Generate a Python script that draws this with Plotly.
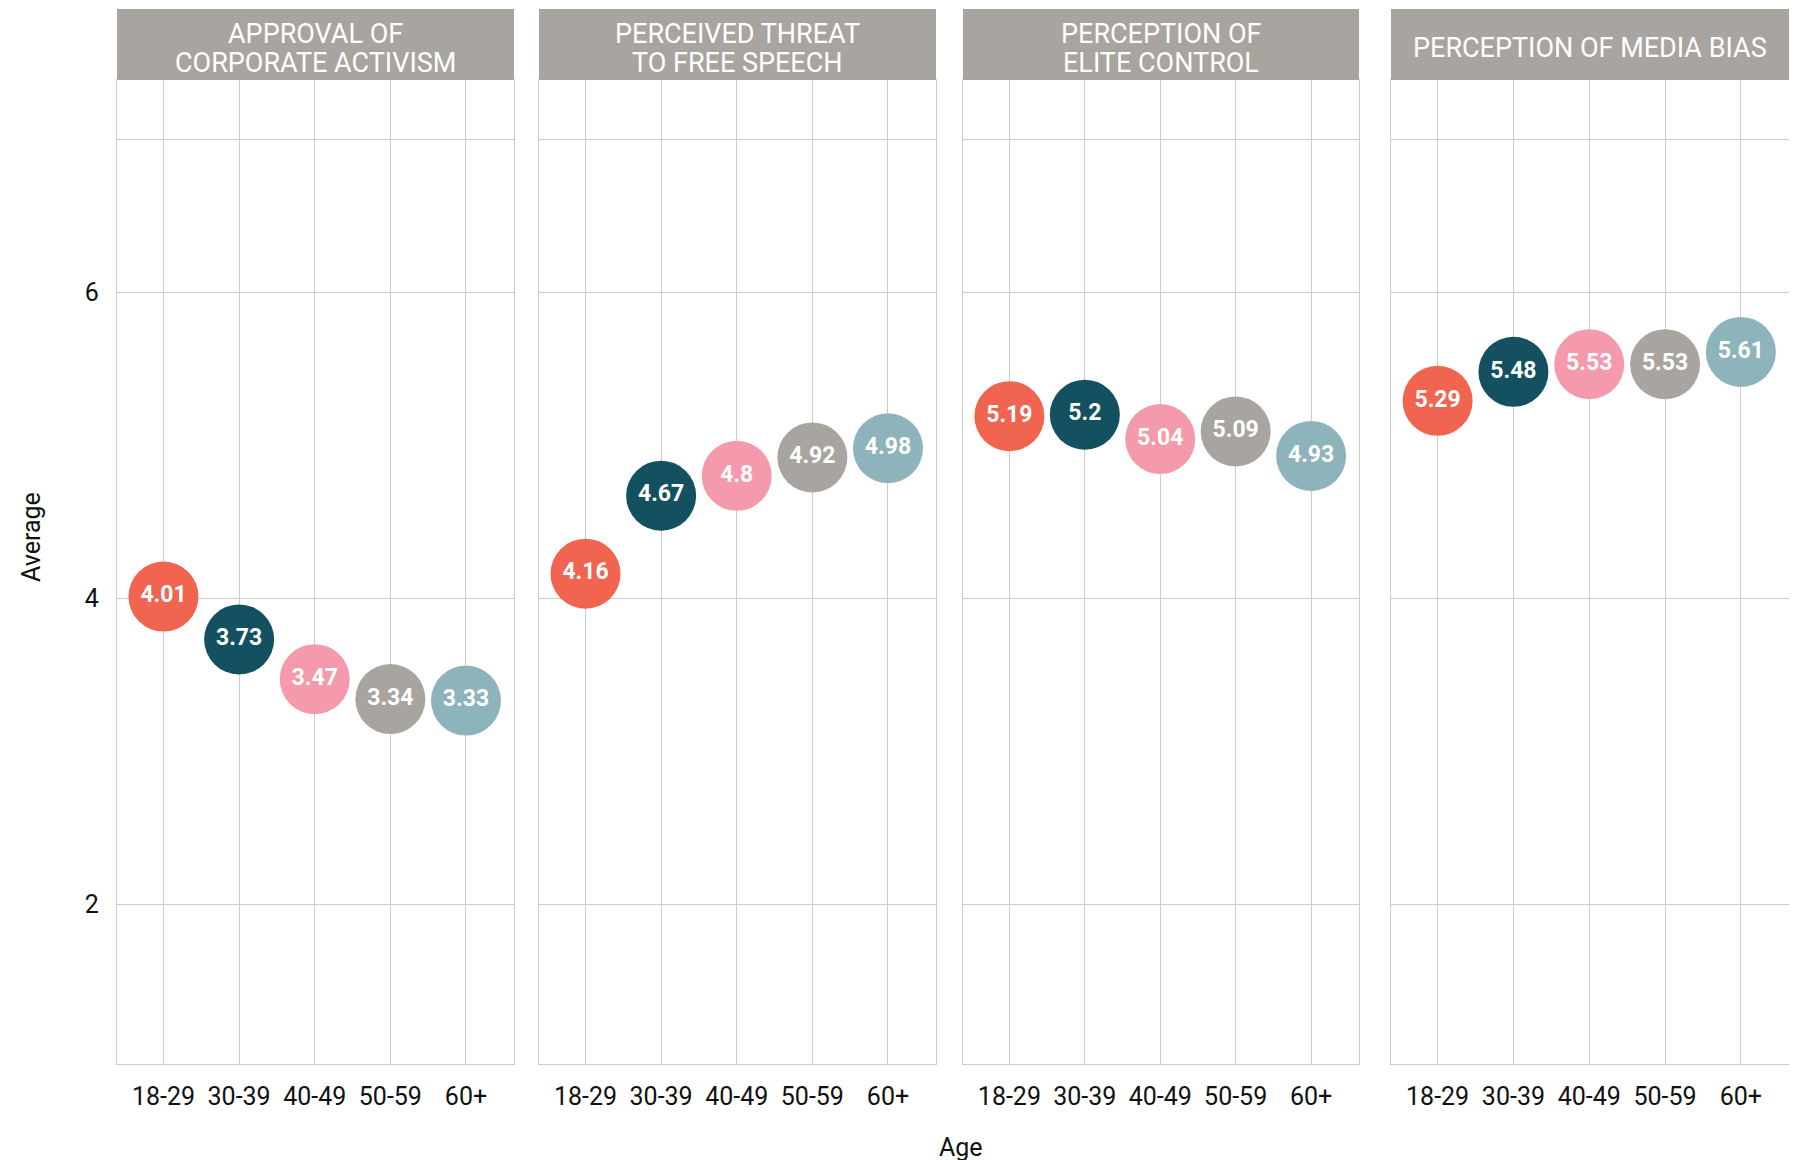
import plotly.graph_objects as go

# ---- data ----
ages = ["18-29", "30-39", "40-49", "50-59", "60+"]
panel_titles = ["APPROVAL OF\nCORPORATE ACTIVISM", "PERCEIVED THREAT\nTO FREE SPEECH",
                "PERCEPTION OF\nELITE CONTROL", "PERCEPTION OF MEDIA BIAS"]
corporate_activism = [4.01, 3.73, 3.47, 3.34, 3.33]
free_speech_threat = [4.16, 4.67, 4.80, 4.92, 4.98]
elite_control = [5.19, 5.20, 5.04, 5.09, 4.93]
media_bias = [5.29, 5.48, 5.53, 5.53, 5.61]
y_ticks = [2, 4, 6, 7]
y_ticklabels = ["2", "4", "6", ""]

series = [corporate_activism, free_speech_threat, elite_control, media_bias]
age_colors = ["#F06450", "#135060", "#F49AAC", "#A8A49F", "#8DB3BB"]

W, H = 1797, 1160
OFF = 8  # page body margin offset
panels_px = [(117, 514), (539, 936), (963, 1359), (1391, 1789)]
plot_top, plot_bot = 80, 1064
strip_top = 9
grid_col = "#CFCBC6"
FONT = "Roboto, Noto Sans, sans-serif"


def px_x(v):
    return (v - OFF) / W


def px_y(v):
    return 1 - (v - OFF) / H


fig = go.Figure()
layout = dict(
    width=W, height=H, margin=dict(l=0, r=0, t=0, b=0),
    paper_bgcolor="white", plot_bgcolor="white", showlegend=False,
    font=dict(family=FONT, color="#1a1a1a"),
)
shapes, annotations = [], []

for i, (vals, title) in enumerate(zip(series, panel_titles)):
    n = "" if i == 0 else str(i + 1)
    x0, x1 = panels_px[i]
    fig.add_trace(go.Scatter(
        x=ages, y=vals, xaxis="x" + n, yaxis="y" + n,
        mode="markers+text",
        marker=dict(size=70, color=age_colors, line=dict(width=0), opacity=1),
        text=[f"<b>{v:g}</b>" for v in vals],
        textposition="middle center",
        textfont=dict(family=FONT, size=23, color="white"),
        cliponaxis=False, hoverinfo="skip",
    ))
    layout["xaxis" + n] = dict(
        domain=[px_x(x0), px_x(x1)], anchor="y" + n, type="category",
        categoryorder="array", categoryarray=ages,
        range=[-0.615, 4.635], showgrid=True, gridcolor=grid_col, gridwidth=1.4,
        showline=True, linecolor=grid_col, linewidth=1.4, mirror=True,
        zeroline=False, ticks="", ticklabelstandoff=10,
        tickfont=dict(family=FONT, size=25, color="#111111"),
    )
    layout["yaxis" + n] = dict(
        domain=[px_y(plot_bot), px_y(plot_top)], anchor="x" + n,
        range=[0.954, 7.388], tickvals=y_ticks, ticktext=y_ticklabels,
        showticklabels=(i == 0), showgrid=True, gridcolor=grid_col, gridwidth=1.4,
        showline=True, linecolor=grid_col, linewidth=1.4, mirror=True,
        zeroline=False, ticks="", ticklabelstandoff=12,
        tickfont=dict(family=FONT, size=25, color="#111111"),
    )
    # strip
    shapes.append(dict(type="rect", xref="paper", yref="paper",
                       x0=px_x(x0), x1=px_x(x1), y0=px_y(plot_top), y1=px_y(strip_top),
                       fillcolor="#A8A49F", line=dict(width=0), layer="above"))
    lines = title.split("\n")
    cy = 48.5
    lh = 28
    for k, line in enumerate(lines):
        yy = cy + (k - (len(lines) - 1) / 2) * lh
        annotations.append(dict(
            text=line, xref="paper", yref="paper", x=px_x((x0 + x1) / 2), y=px_y(yy),
            xanchor="center", yanchor="middle", showarrow=False,
            font=dict(family=FONT, size=27, color="white")))

annotations.append(dict(text="Average", xref="paper", yref="paper", x=px_x(31), y=px_y(537),
                        xanchor="center", yanchor="middle", textangle=-90, showarrow=False,
                        font=dict(family=FONT, size=25, color="#111111")))
annotations.append(dict(text="Age", xref="paper", yref="paper", x=px_x(961), y=px_y(1147),
                        xanchor="center", yanchor="middle", showarrow=False,
                        font=dict(family=FONT, size=25, color="#111111")))

layout["shapes"] = shapes
layout["annotations"] = annotations
fig.update_layout(**layout)
fig.write_html("out.html")
